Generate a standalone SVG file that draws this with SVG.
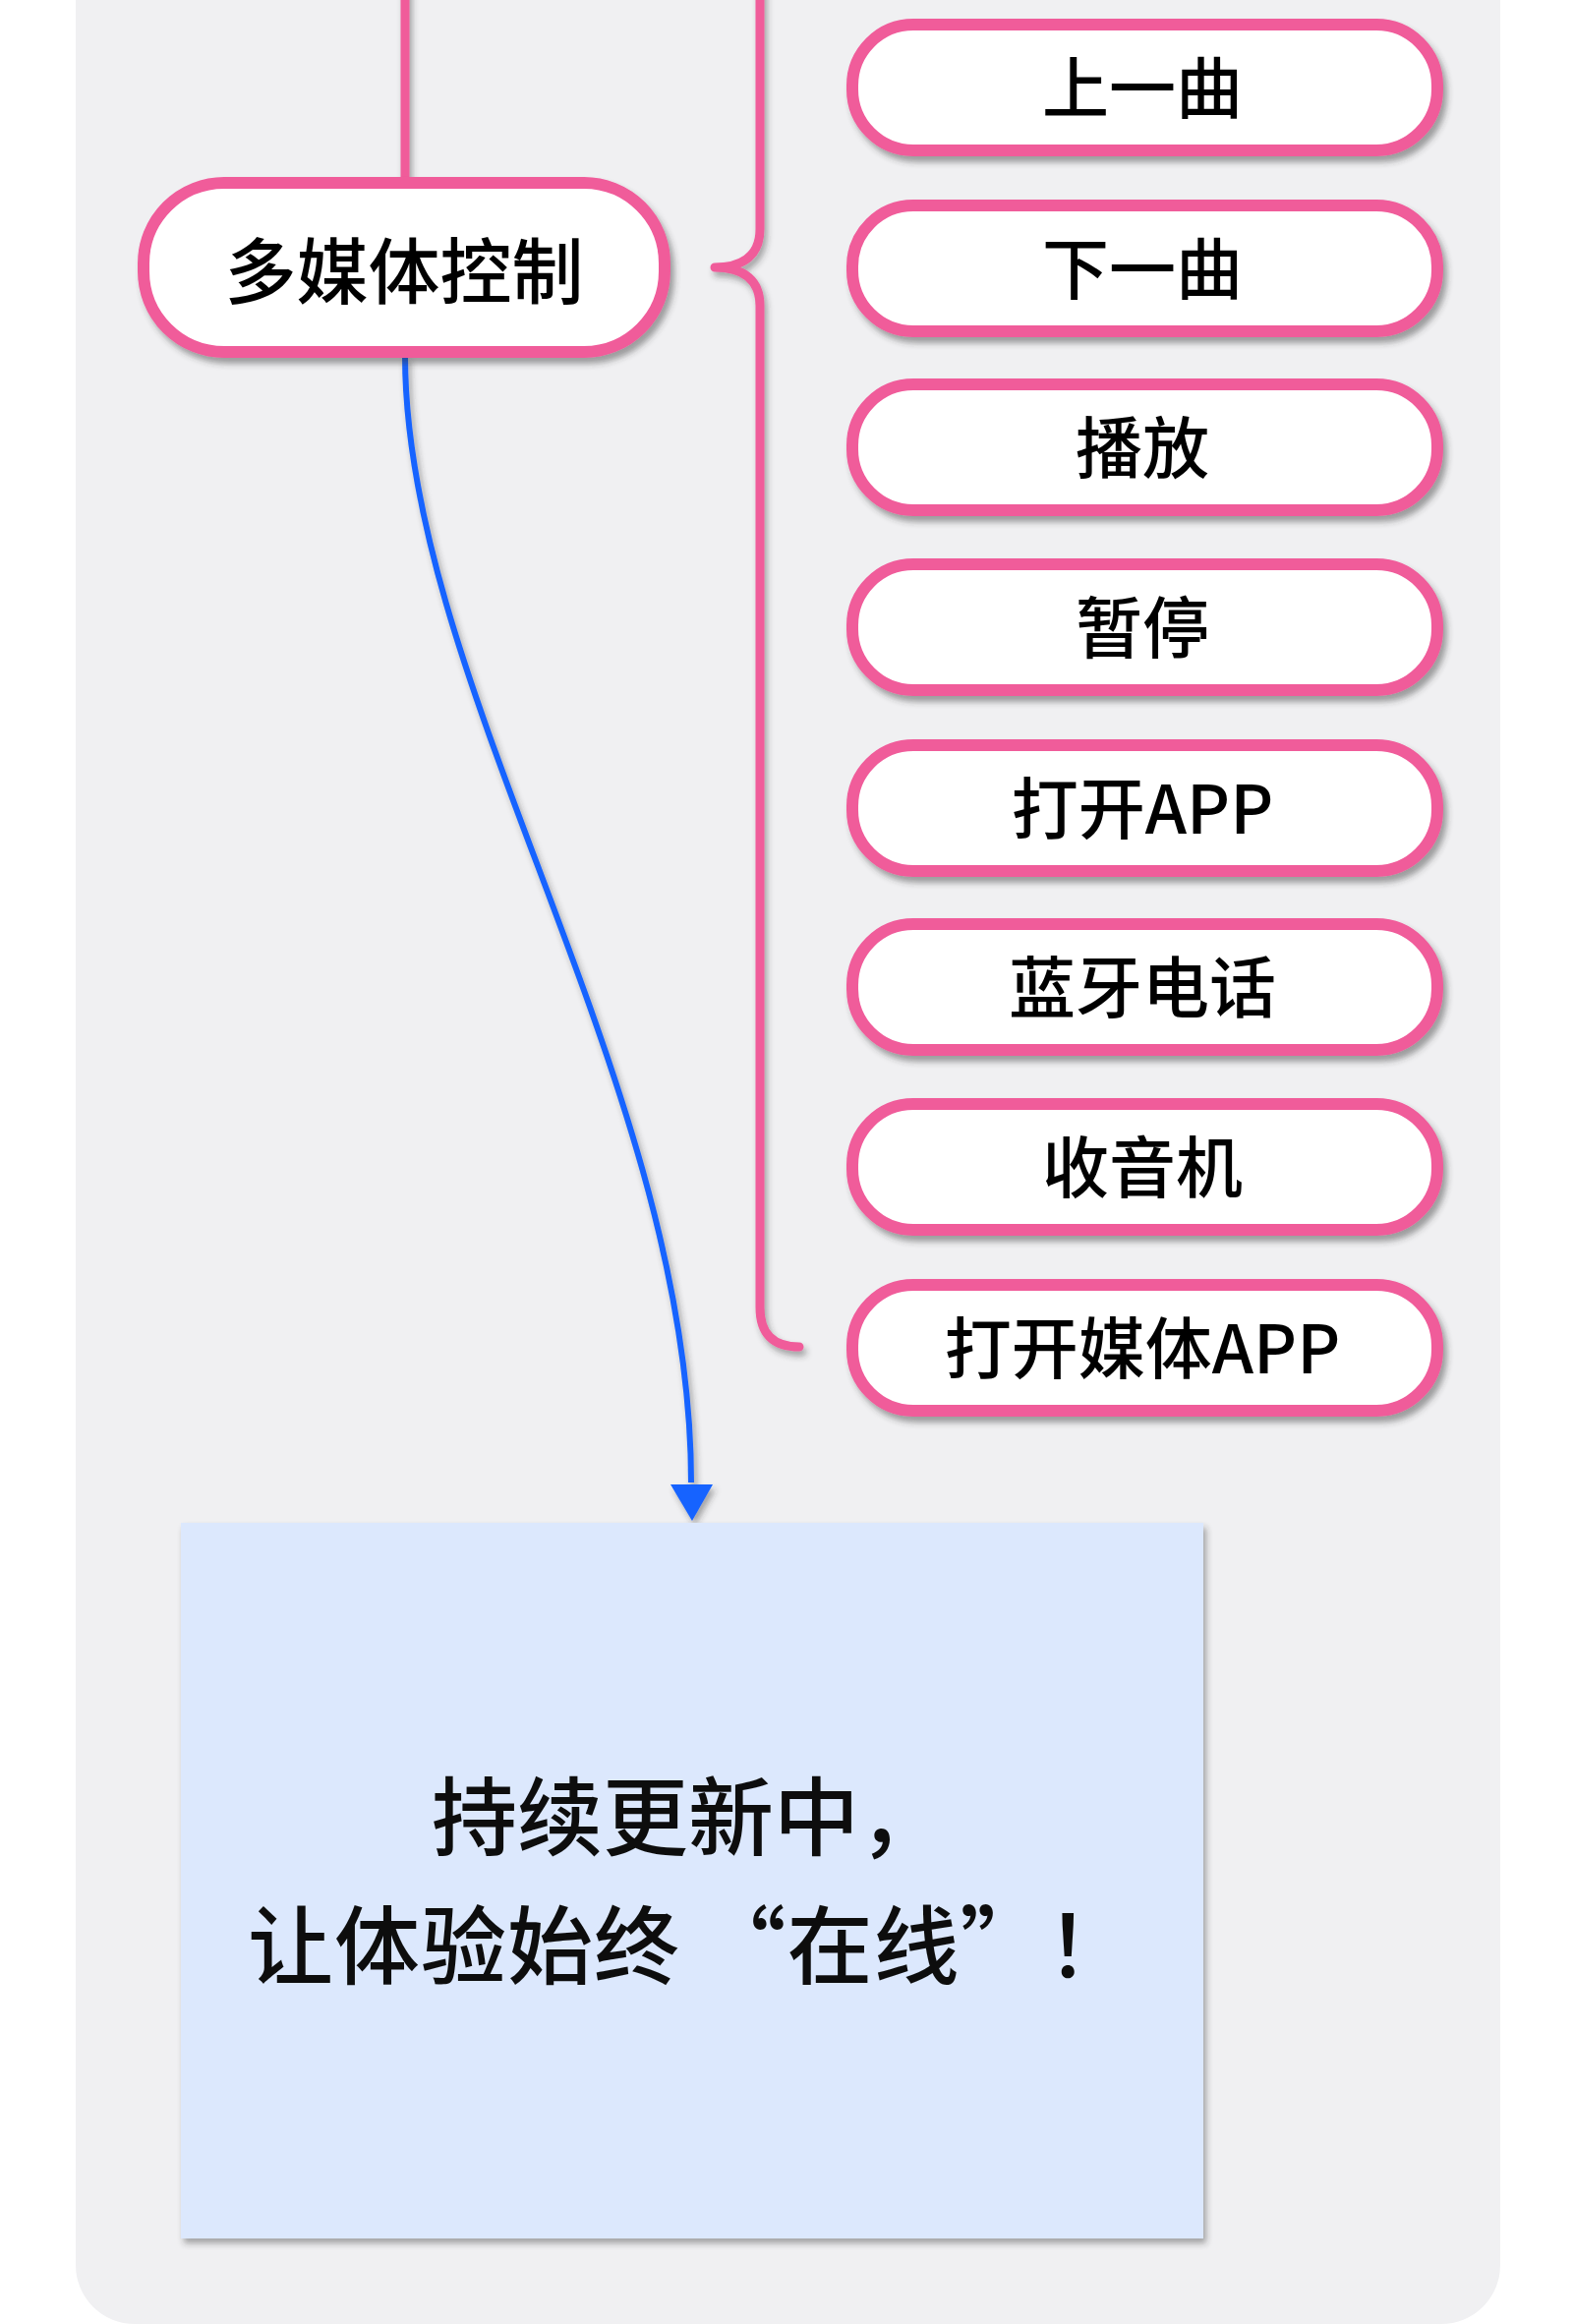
<svg xmlns="http://www.w3.org/2000/svg" width="1600" height="2364" viewBox="0 0 1600 2364">
<style>
.pill{fill:#ffffff;stroke:#f05b9a;stroke-width:12}
.lbl{font-family:"Noto Sans CJK SC","Noto Sans",sans-serif;font-size:68px;font-weight:500;fill:#000;text-anchor:middle}
.main{font-size:73px}
.pk{fill:none;stroke:#f05b9a;stroke-width:9;stroke-linecap:round;stroke-linejoin:round}
.bl{fill:none;stroke:#1464ff;stroke-width:6}
.big{font-family:"Noto Sans CJK SC","Noto Sans",sans-serif;font-size:87px;font-weight:500;fill:#111}
</style>
<defs>
<filter id="sh" x="-10%" y="-10%" width="130%" height="140%">
<feDropShadow dx="4" dy="6" stdDeviation="3" flood-color="#333" flood-opacity="0.45"/>
</filter>
<filter id="sh2" x="-5%" y="-5%" width="115%" height="115%">
<feDropShadow dx="3" dy="5" stdDeviation="3" flood-color="#333" flood-opacity="0.4"/>
</filter>
</defs>
<rect x="77" y="-100" width="1449" height="2464" rx="60" ry="60" fill="#f0f0f2"/>
<g id="connectors" filter="url(#sh2)">
<path class="pk" d="M412,-10 L412,190"/>
<path class="pk" d="M773,-10 L773,233 C773,258 758,272 727,272 C758,272 773,286 773,311 L773,1330 Q773,1370 813,1370"/>
<path class="bl" d="M412,362 C412,700 703,1100 703,1508"/>
<path d="M682,1510 L725,1510 L704,1547 Z" fill="#1464ff"/>
</g>
<g id="node-main" filter="url(#sh)">
<rect class="pill" x="146" y="186" width="530" height="172" rx="82" ry="82"/>
<text class="lbl main" x="411" y="303">多媒体控制</text>
</g>
<g id="node-1" filter="url(#sh)">
<rect class="pill" x="867" y="25" width="595" height="128" rx="62" ry="62"/>
<text class="lbl" x="1162" y="115">上一曲</text>
</g>
<g id="node-2" filter="url(#sh)">
<rect class="pill" x="867" y="209" width="595" height="128" rx="62" ry="62"/>
<text class="lbl" x="1162" y="299">下一曲</text>
</g>
<g id="node-3" filter="url(#sh)">
<rect class="pill" x="867" y="391" width="595" height="128" rx="62" ry="62"/>
<text class="lbl" x="1162" y="481">播放</text>
</g>
<g id="node-4" filter="url(#sh)">
<rect class="pill" x="867" y="574" width="595" height="128" rx="62" ry="62"/>
<text class="lbl" x="1162" y="664">暂停</text>
</g>
<g id="node-5" filter="url(#sh)">
<rect class="pill" x="867" y="758" width="595" height="128" rx="62" ry="62"/>
<text class="lbl" x="1162" y="848">打开APP</text>
</g>
<g id="node-6" filter="url(#sh)">
<rect class="pill" x="867" y="940" width="595" height="128" rx="62" ry="62"/>
<text class="lbl" x="1162" y="1030">蓝牙电话</text>
</g>
<g id="node-7" filter="url(#sh)">
<rect class="pill" x="867" y="1123" width="595" height="128" rx="62" ry="62"/>
<text class="lbl" x="1162" y="1213">收音机</text>
</g>
<g id="node-8" filter="url(#sh)">
<rect class="pill" x="867" y="1307" width="595" height="128" rx="62" ry="62"/>
<text class="lbl" x="1162" y="1397">打开媒体APP</text>
</g>
<g id="node-note" filter="url(#sh2)">
<rect x="184" y="1549" width="1040" height="728" fill="#dce8fd"/>
<text class="big" x="439" y="1881">持续更新中，</text>
<text class="big" x="252" y="2012" letter-spacing="1">让体验始终 “在线”！</text>
</g>
</svg>
